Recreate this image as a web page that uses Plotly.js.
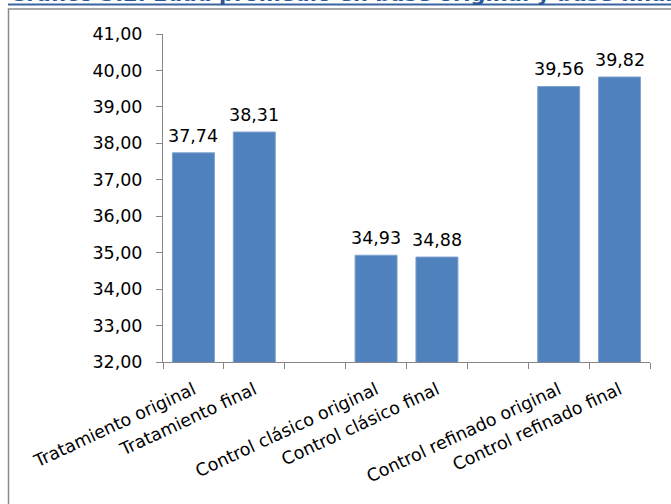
<!DOCTYPE html>
<html>
<head>
<meta charset="utf-8">
<script src="https://cdn.plot.ly/plotly-3.0.1.min.js"></script>
<style>html,body{margin:0;padding:0;background:#fff;}#chart{width:671px;height:504px;}</style>
</head>
<body>
<div id="chart"></div>
<script>
const categories = ["Tratamiento original", "Tratamiento final", " ", "Control clásico original", "Control clásico final", "  ", "Control refinado original", "Control refinado final"];
const values = [37.74, 38.31, null, 34.93, 34.88, null, 39.56, 39.82];
const yTicks = [32, 33, 34, 35, 36, 37, 38, 39, 40, 41];
const titleText = "Gráfico 3.2. Edad promedio en base original y base final";

const labels = values.map(v => v === null ? "" : v.toFixed(2).replace(".", ","));

const W = 671, H = 504;
const L = 163, R = 650, T = 34, B = 362;
const pw = R - L, ph = B - T;
const px = x => (x - L) / pw;
const py = y => (B - y) / ph;

const FONT = "DejaVu Sans";
const FS = 17.5;

const trace = {
  type: "bar",
  x: categories,
  y: values,
  marker: {color: "#4F81BD", line: {color: "#7FA3D0", width: 1}},
  hoverinfo: "skip"
};

const valueLabels = categories.map((c, i) => values[i] === null ? null : {
  x: c, y: values[i], xref: "x", yref: "y",
  text: labels[i], showarrow: false,
  xanchor: "center", yanchor: "bottom", yshift: 5,
  font: {family: FONT, size: FS, color: "#000"}
}).filter(a => a !== null);

const layout = {
  width: W, height: H,
  margin: {l: L, r: W - R, t: T, b: H - B, pad: 0},
  paper_bgcolor: "#fff",
  plot_bgcolor: "#fff",
  separators: ",.",
  showlegend: false,
  bargap: 0.31,
  font: {family: FONT, size: FS, color: "#000"},
  xaxis: {
    type: "category",
    categoryorder: "array",
    categoryarray: categories,
    range: [-0.5, 7.5],
    showline: true, linecolor: "#868686", linewidth: 1,
    ticks: "outside", tickson: "boundaries", ticklen: 6, tickcolor: "#868686",
    tickangle: -25,
    tickfont: {family: FONT, size: FS, color: "#000"},
    ticklabelstandoff: 10,
    showgrid: false, zeroline: false, fixedrange: true
  },
  yaxis: {
    range: [32, 41],
    tickvals: yTicks,
    tickformat: ".2f",
    showline: true, linecolor: "#868686", linewidth: 1,
    ticks: "outside", ticklen: 6, tickcolor: "#868686",
    tickfont: {family: FONT, size: FS, color: "#000"},
    ticklabelstandoff: 10,
    showgrid: false, zeroline: false, fixedrange: true
  },
  shapes: [
    {type: "rect", xref: "paper", yref: "paper",
     x0: px(8.5), x1: px(690), y0: py(9), y1: py(530),
     line: {color: "#8C8C8C", width: 1.5}, fillcolor: "rgba(0,0,0,0)", layer: "below"},
    {type: "line", xref: "paper", yref: "paper",
     x0: px(8), x1: px(690), y0: py(4.5), y1: py(4.5),
     line: {color: "#3A64A0", width: 2}}
  ],
  annotations: [
    {xref: "paper", yref: "paper", x: px(7), y: py(8), xanchor: "left", yanchor: "bottom",
     text: "<b>" + titleText + "</b>", showarrow: false,
     font: {family: "DejaVu Sans", size: 21, color: "#2B5797"}}
  ].concat(valueLabels)
};

Plotly.newPlot("chart", [trace], layout, {displayModeBar: false, staticPlot: true});
</script>
</body>
</html>
